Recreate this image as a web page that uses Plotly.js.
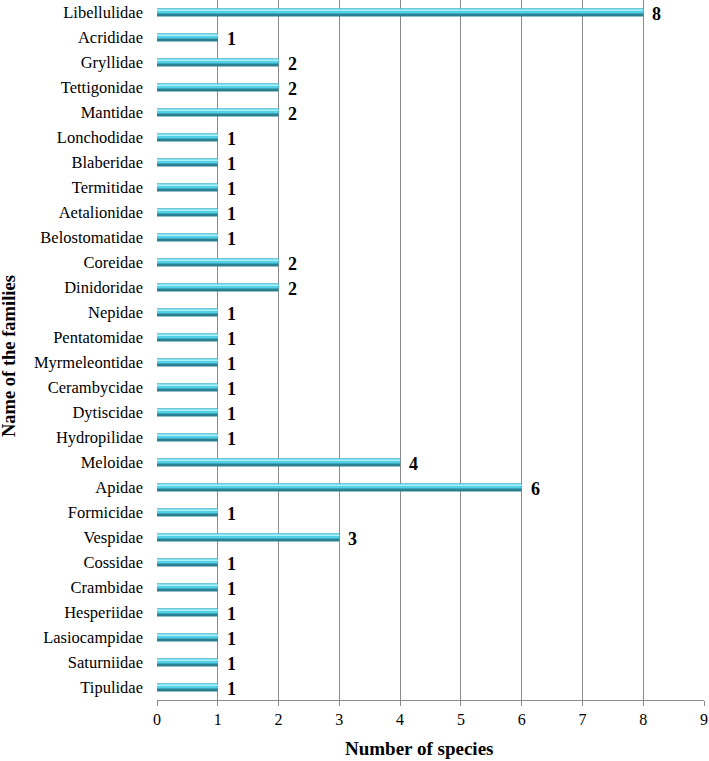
<!DOCTYPE html>
<html><head><meta charset="utf-8">
<script src="https://cdn.plot.ly/plotly-3.0.1.min.js"></script>
<style>body{margin:0;background:#fff}#c{width:709px;height:761px}</style>
</head><body><div id="c"></div>
<script>
const families = ["Libellulidae","Acrididae","Gryllidae","Tettigonidae","Mantidae","Lonchodidae","Blaberidae","Termitidae","Aetalionidae","Belostomatidae","Coreidae","Dinidoridae","Nepidae","Pentatomidae","Myrmeleontidae","Cerambycidae","Dytiscidae","Hydropilidae","Meloidae","Apidae","Formicidae","Vespidae","Cossidae","Crambidae","Hesperiidae","Lasiocampidae","Saturniidae","Tipulidae"];
const species = [8,1,2,2,2,1,1,1,1,1,2,2,1,1,1,1,1,1,4,6,1,3,1,1,1,1,1,1];
const xTicks = [0,1,2,3,4,5,6,7,8,9];
const xTitle = "Number of species";
const yTitle = "Name of the families";

const font = "Liberation Serif, Times New Roman, serif";
const traces = [
  {type:"bar", orientation:"h", y:families, x:species, width:0.32, offset:-0.16,
   marker:{color:"#2A8090", line:{width:0}}, hoverinfo:"x+y"},
  {type:"bar", orientation:"h", y:families, x:species, width:0.2, offset:-0.16,
   marker:{color:"#52D2E8", line:{width:0}}, hoverinfo:"skip"},
  {type:"bar", orientation:"h", y:families, x:species, width:0.06, offset:-0.12,
   marker:{color:"#B0F0FA", line:{width:0}}, hoverinfo:"skip"}
];
const annotations = families.map((f,i)=>({
  x:species[i], y:f, xref:"x", yref:"y", text:"<b>"+species[i]+"</b>",
  showarrow:false, xanchor:"left", yanchor:"middle", xshift:7, yshift:-1,
  font:{family:font, size:18, color:"#000"}
}));
annotations.push({
  xref:"paper", yref:"paper", x:(419-157)/547, y:(700-748)/700,
  xanchor:"center", yanchor:"middle", showarrow:false,
  text:"<b>"+xTitle+"</b>", font:{family:font, size:19, color:"#000"}
});
annotations.push({
  xref:"paper", yref:"paper", x:(9-157)/547, y:(700-356)/700,
  xanchor:"center", yanchor:"middle", showarrow:false, textangle:-90,
  text:"<b>"+yTitle+"</b>", font:{family:font, size:18.5, color:"#000"}
});
const layout = {
  width:709, height:761, showlegend:false, barmode:"overlay",
  paper_bgcolor:"#fff", plot_bgcolor:"#fff",
  margin:{l:157, r:5, t:0, b:61},
  font:{family:font, color:"#000"},
  annotations:annotations,
  xaxis:{range:[0,9], tickvals:xTicks, ticktext:xTicks.map(String),
    showgrid:true, gridcolor:"#8a8a8a", gridwidth:1, zeroline:false,
    showline:true, linecolor:"#8a8a8a", linewidth:1, mirror:false,
    ticks:"outside", ticklen:5, tickcolor:"#8a8a8a",
    tickfont:{family:font, size:16, color:"#000"}},
  yaxis:{type:"category", range:[families.length-0.5,-0.5], showgrid:false, zeroline:false,
    showline:false, ticks:"", ticklabelstandoff:13,
    tickfont:{family:font, size:16.5, color:"#000"}}
};
Plotly.newPlot("c", traces, layout, {displayModeBar:false, staticPlot:true});
</script></body></html>
